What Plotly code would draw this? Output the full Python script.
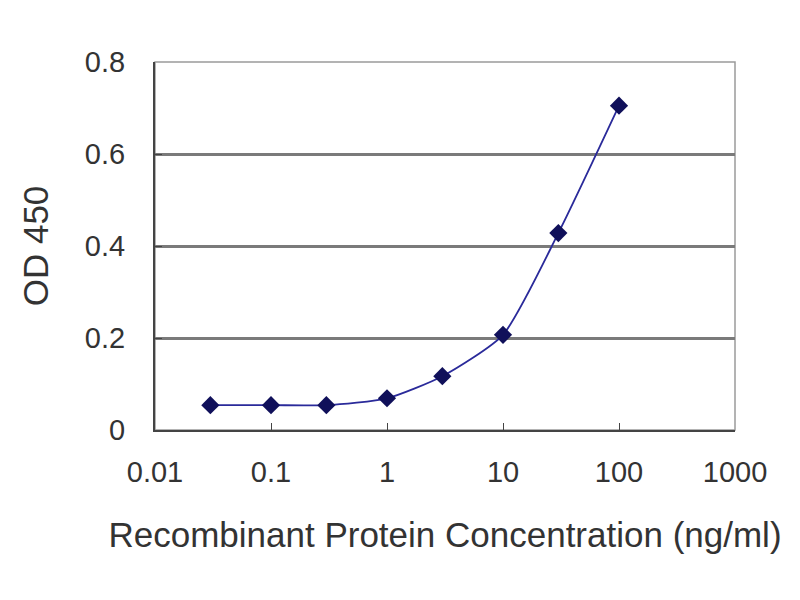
import plotly.graph_objects as go

# ELISA standard curve values
concentration = [0.03, 0.1, 0.3, 1, 3, 10, 30, 100]
od_450 = [0.054, 0.054, 0.054, 0.069, 0.117, 0.207, 0.428, 0.705]

x_tick_vals = [0.01, 0.1, 1, 10, 100, 1000]
x_tick_text = ["0.01", "0.1", "1", "10", "100", "1000"]
y_tick_vals = [0, 0.2, 0.4, 0.6, 0.8]
y_tick_text = ["0", "0.2", "0.4", "0.6", "0.8"]

font = dict(family="Liberation Sans, Arial, sans-serif", size=29, color="#333333")

fig = go.Figure()

fig.add_trace(go.Scatter(
    x=concentration, y=od_450, mode="lines+markers",
    line=dict(color="#2a2a9a", width=1.8, shape="spline", smoothing=0.6),
    marker=dict(symbol="diamond", size=14, color="#10105a"),
    showlegend=False,
))

# grey frame around plot area
fig.add_shape(type="rect", xref="paper", yref="paper", x0=0, x1=1, y0=0, y1=1,
              line=dict(color="#9a9a9a", width=1.5), layer="below")

# page body has an 8px margin, so the figure is sized to fit inside it
fig.update_layout(
    width=784, height=584,
    margin=dict(l=147, r=57, t=54, b=162),
    paper_bgcolor="white", plot_bgcolor="white",
    font=font,
    xaxis=dict(
        type="log", range=[-2, 3],
        tickvals=x_tick_vals, ticktext=x_tick_text,
        ticks="inside", ticklen=7, tickcolor="#444444",
        showline=True, linecolor="#444444", linewidth=2,
        showgrid=False, zeroline=False,
        ticklabelstandoff=15,
        title=dict(text="Recombinant Protein Concentration (ng/ml)", standoff=36),
    ),
    yaxis=dict(
        range=[0, 0.8],
        tickvals=y_tick_vals, ticktext=y_tick_text,
        ticks="inside", ticklen=7, tickcolor="#444444",
        showline=True, linecolor="#444444", linewidth=2,
        showgrid=True, gridcolor="#7a7a7a", gridwidth=3,
        zeroline=False,
        ticklabelstandoff=22,
        title=dict(text="OD 450", standoff=26),
    ),
)

fig.write_html("out.html")
